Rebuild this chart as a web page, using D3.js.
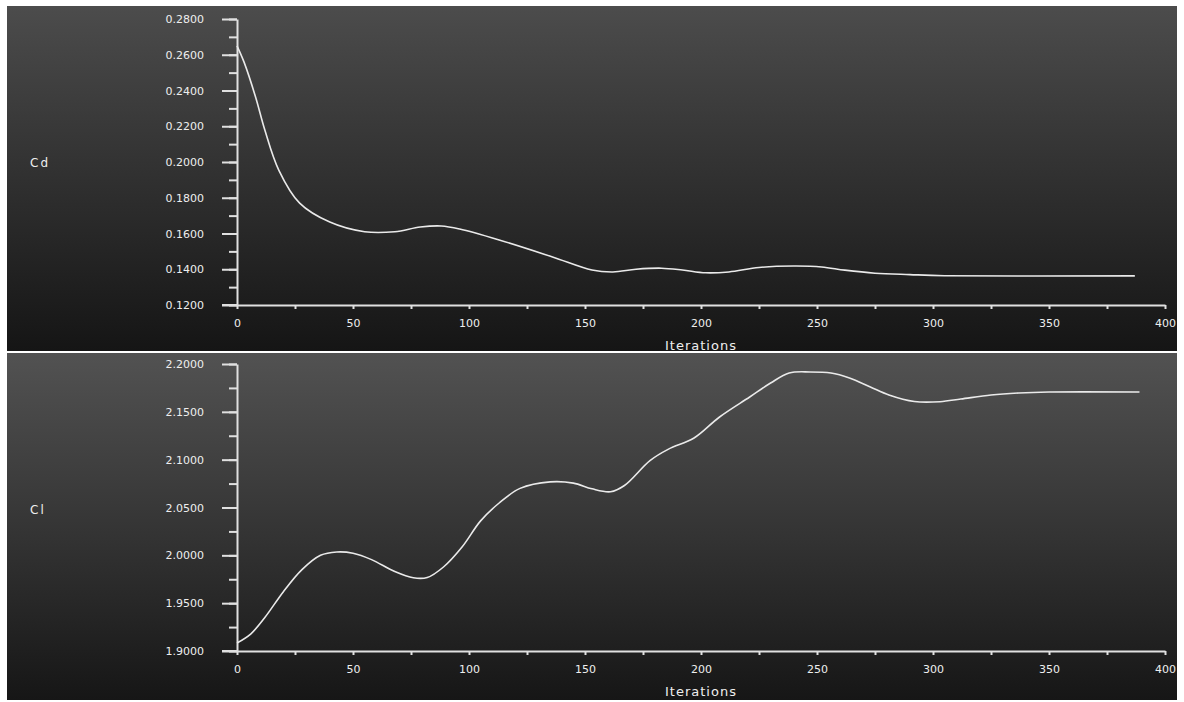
<!DOCTYPE html>
<html>
<head>
<meta charset="utf-8">
<script src="https://cdn.jsdelivr.net/npm/d3@7"></script>
<style>
  body { margin: 0; background: #fff; }
  svg { display: block; }
  text { font-family: "DejaVu Sans", sans-serif; fill: #eeeeee; }
</style>
</head>
<body>
<svg width="1184" height="702"></svg>
<script>
const svg = d3.select('svg');

// Cd history (top panel)
const cdIter = [0, 3, 8, 12, 18, 27, 40, 55, 68, 79, 88, 96, 113, 136, 153, 162, 172, 183, 192, 202, 212, 225, 240, 252, 262, 275, 290, 305, 387];
const cdValues = [0.2650, 0.2560, 0.2364, 0.2179, 0.1955, 0.1770, 0.1664, 0.1610, 0.1610, 0.1636, 0.1642, 0.1625, 0.1564, 0.1469, 0.1396, 0.1385, 0.1400, 0.1406, 0.1396, 0.1380, 0.1385, 0.1410, 0.1418, 0.1413, 0.1395, 0.1378, 0.1370, 0.1364, 0.1363];

// Cl history (bottom panel)
const clIter = [0, 6, 12, 20, 28, 36, 43, 50, 58, 68, 76, 82, 89, 97, 105, 113, 122, 135, 145, 153, 161, 167, 178, 186, 197, 208, 221, 230, 238, 247, 256, 264, 273, 281, 292, 303, 312, 325, 337, 350, 389];
const clValues = [1.9084, 1.9180, 1.9350, 1.9620, 1.9850, 2.0000, 2.0035, 2.0022, 1.9955, 1.9830, 1.9765, 1.9768, 1.9878, 2.0087, 2.0360, 2.0547, 2.0700, 2.0768, 2.0755, 2.0695, 2.0665, 2.0730, 2.0990, 2.1110, 2.1226, 2.1446, 2.1655, 2.1801, 2.1906, 2.1917, 2.1906, 2.1854, 2.1760, 2.1676, 2.1608, 2.1606, 2.1634, 2.1676, 2.1697, 2.1707, 2.1707];

const xTicks = [0, 50, 100, 150, 200, 250, 300, 350, 400];
const cdTicks = [0.12, 0.14, 0.16, 0.18, 0.20, 0.22, 0.24, 0.26, 0.28];
const clTicks = [1.90, 1.95, 2.00, 2.05, 2.10, 2.15, 2.20];

const defs = svg.append('defs');
const addGradient = (id, stops) => {
  const g = defs.append('linearGradient')
    .attr('id', id)
    .attr('x1', 0).attr('y1', 0).attr('x2', 0).attr('y2', 1);
  stops.forEach(([o, c]) => g.append('stop').attr('offset', o).attr('stop-color', c));
};
addGradient('bgTop', [[0, '#4c4c4c'], [0.45, '#333333'], [1, '#151515']]);
addGradient('bgBottom', [[0, '#525252'], [0.5, '#353535'], [1, '#161616']]);

const fmt = d3.format('.4f');

const drawPanel = (cfg) => {
  const { top, bottom, yTop, yBottom, yDomain, yTicks, yMinor, iters, values, label, labelY, bgId } = cfg;
  const g = svg.append('g');

  g.append('rect')
    .attr('x', 7).attr('y', top)
    .attr('width', 1170).attr('height', bottom - top)
    .attr('fill', `url(#${bgId})`);

  const x = d3.scaleLinear().domain([0, 400]).range([237, 1165]);
  const y = d3.scaleLinear().domain(yDomain).range([yBottom, yTop]);

  // minor y ticks
  g.append('g')
    .attr('transform', 'translate(237,0)')
    .call(d3.axisLeft(y).tickValues(yMinor).tickSize(8).tickSizeOuter(0).tickFormat(''))
    .call(s => s.select('.domain').remove());

  // major y axis
  g.append('g')
    .attr('transform', 'translate(237,0)')
    .call(d3.axisLeft(y).tickValues(yTicks).tickSize(15).tickSizeOuter(0).tickPadding(18).tickFormat(fmt))
    .call(s => s.selectAll('text').attr('font-size', 11).attr('fill', '#eeeeee').attr('font-family', '"DejaVu Sans", sans-serif'));

  // x axis
  g.append('g')
    .attr('transform', `translate(0,${yBottom})`)
    .call(d3.axisBottom(x).tickValues(d3.range(0, 401, 25)).tickSize(4).tickSizeOuter(0).tickPadding(10)
      .tickFormat(d => xTicks.includes(d) ? d : ''))
    .call(s => s.selectAll('text').attr('font-size', 11).attr('fill', '#eeeeee').attr('font-family', '"DejaVu Sans", sans-serif'));

  // extend x axis line to the left over the y tick area
  g.append('line')
    .attr('x1', 222).attr('x2', 237)
    .attr('y1', yBottom).attr('y2', yBottom);

  g.selectAll('.domain, .tick line, line').attr('stroke', '#e0e0e0').attr('stroke-width', 2);

  g.append('text')
    .attr('x', (x(0) + x(400)) / 2)
    .attr('y', yBottom + 45)
    .attr('text-anchor', 'middle')
    .attr('font-size', 13)
    .attr('letter-spacing', 1)
    .text('Iterations');

  g.append('text')
    .attr('x', 30)
    .attr('y', labelY)
    .attr('font-size', 12)
    .attr('letter-spacing', 2)
    .text(label);

  const line = d3.line()
    .x((d, i) => x(iters[i]))
    .y(d => y(d))
    .curve(d3.curveCatmullRom.alpha(0.5));

  g.append('path')
    .datum(values)
    .attr('d', line)
    .attr('fill', 'none')
    .attr('stroke', '#eaeaea')
    .attr('stroke-width', 1.6);
};

drawPanel({
  top: 6, bottom: 351, yTop: 19, yBottom: 305,
  yDomain: [0.12, 0.28], yTicks: cdTicks, yMinor: d3.range(0, 17).map(i => 0.12 + i * 0.01),
  iters: cdIter, values: cdValues, label: 'Cd', labelY: 167, bgId: 'bgTop'
});

drawPanel({
  top: 353, bottom: 700, yTop: 364, yBottom: 651,
  yDomain: [1.9, 2.2], yTicks: clTicks, yMinor: d3.range(0, 13).map(i => 1.9 + i * 0.025),
  iters: clIter, values: clValues, label: 'Cl', labelY: 514, bgId: 'bgBottom'
});
</script>
</body>
</html>
